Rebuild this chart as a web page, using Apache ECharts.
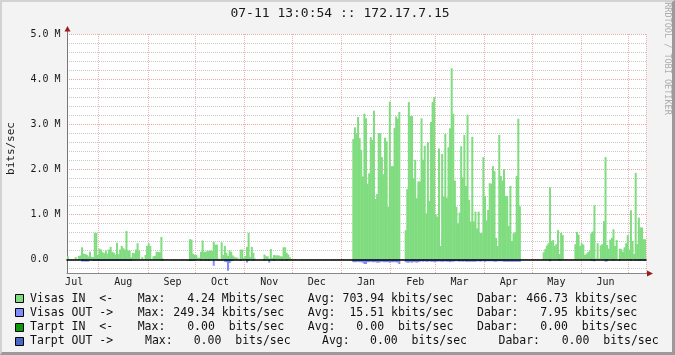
<!DOCTYPE html>
<html><head><meta charset="utf-8">
<script src="https://cdn.jsdelivr.net/npm/echarts@6/dist/echarts.min.js"></script>
<style>
html,body{margin:0;padding:0;background:#f3f3f3;}
#wrap{position:relative;width:675px;height:355px;overflow:hidden;}
#chart{position:absolute;left:0;top:0;width:675px;height:355px;}
#frame{position:absolute;left:0;top:0;width:675px;height:355px;box-sizing:border-box;border-top:2px solid #d2d2d2;border-left:2px solid #d2d2d2;border-right:3px solid #9a9a9a;border-bottom:3px solid #9a9a9a;pointer-events:none;}
</style></head><body>
<div id="wrap"><div id="chart"></div><div id="frame"></div></div>
<script>
const TITLE = '07-11 13:0:54 :: 172.17.7.15';
const Y_NAME = 'bits/sec';
const WATERMARK = 'RRDTOOL / TOBI OETIKER';
const MONTH_LABELS = ['Jan','Feb','Mar','Apr','May','Jun','Jul','Aug','Sep','Oct','Nov','Dec'];

// Visas IN, Mbit/s per day (first value = first day listed in MONTH_BLOCKS)
const IN_2008_07 = [0.07,null,null,null,null,0.05,null,0.08,0.09,0.27,0.13,0.12,0.10,0.07,0.17,0.06,0.05,0.59,0.59,0.10];
const IN_2008_08 = [0.24,0.22,0.16,0.14,0.20,0.13,0.22,0.28,0.17,0.15,0.11,0.37,0.12,0.22,0.30,0.25,0.22,0.63,0.20,0.20,0.05,0.15,0.14,0.22,0.36,0.20,null,0.05,null,0.10,0.30];
const IN_2008_09 = [0.36,0.30,null,0.07,0.08,0.17,0.17,0.16,0.50,0.02,null,null,null,null,null,null,null,null,null,null,null,null,null,null,null,null,0.45,0.44,0.13,0.10];
const IN_2008_10 = [0.10,0.04,0.04,0.17,0.42,0.17,0.17,0.19,0.19,0.20,0.19,0.39,0.33,0.33,0.02,null,0.38,0.10,0.30,0.15,0.08,0.20,0.17,0.09,0.06,0.04,0.04,null,0.22,0.22,0.04];
const IN_2008_11 = [0.08,0.28,0.59,0.06,0.28,0.15,0.02,null,null,null,null,null,0.11,0.07,0.07,0.02,0.23,0.04,0.10,0.09,0.09,0.09,0.07,0.07,0.27,0.27,0.15,0.11,0.05,null];
const IN_2008_12 = [];
const IN_2009_01 = [null,null,null,null,null,null,null,2.67,2.93,2.80,3.16,2.69,2.43,1.84,3.23,3.13,1.68,1.91,2.71,2.65,3.30,1.34,1.45,2.80,2.80,2.27,1.89,2.70,2.62,1.17,3.50];
const IN_2009_02 = [2.07,2.07,2.92,3.17,3.12,3.27,null,null,null,0.65,1.56,3.49,3.18,3.18,1.80,2.21,1.36,1.73,1.73,3.13,2.21,2.52,1.02,2.60,1.30,3.05,3.49,3.60];
const IN_2009_03 = [1.00,0.95,2.46,0.30,2.34,1.39,2.78,1.37,2.49,2.91,4.24,3.23,1.75,1.17,0.80,1.04,2.51,1.82,2.76,1.63,3.21,1.32,0.84,2.72,0.84,1.06,0.69,1.06,0.59,0.58,2.27];
const IN_2009_04 = [1.41,0.87,1.10,1.69,1.68,2.07,1.96,0.48,0.30,2.76,1.85,1.75,2.00,1.41,1.41,0.74,1.63,0.41,0.58,0.60,1.85,3.12,1.18];
const IN_2009_05 = [null,null,null,null,null,null,null,0.16,0.23,0.31,0.36,1.60,0.41,0.43,0.30,0.34,0.65,0.12,0.59,0.54,null,null,null,null,null,null,null,0.34,0.61,0.55,0.30];
const IN_2009_06 = [0.36,0.33,0.10,0.13,0.16,0.20,0.58,0.62,1.20,0.02,0.36,0.02,0.31,0.34,0.85,2.27,0.32,0.24,0.44,0.48,0.67,0.30,0.43,null,0.24,0.23,0.17,0.27,0.36,0.54];
const IN_2009_07 = [0.22,1.09,0.41,0.12,1.92,0.34,0.93,0.71,0.71,0.45,0.45];

// Visas OUT, Mbit/s per day (drawn below zero)
const OUT_2008_07 = [null,null,null,null,null,null,null,null,null,0.045,0.045,0.045,0.045,0.045,null,null,0.03,0.03,0.03,0.03];
const OUT_2008_08 = [0.03,0.03,0.03,0.03,0.03,0.03,0.03,0.03,0.03,0.03,0.03,0.03,0.03,0.03,0.03,0.03,0.03,0.03,0.03,0.03,0.03];
const OUT_2008_09 = [null,null,null,null,null,null,null,null,0.02,0.02,null,null,null,null,null,null,null,null,null,null,null,null,null,null,null,null,0.03,0.03,0.03,0.03];
const OUT_2008_10 = [null,null,null,0.03,null,null,0.03,null,0.03,null,null,0.14,null,null,0.03,null,0.03,null,0.05,0.06,0.25,0.08,0.04,0.03,null,null,null,null,0.03,null,null];
const OUT_2008_11 = [null,0.07,0.03,null,null,0.03,null,null,null,null,null,null,0.03,null,null,0.07,null,null,0.03,null,null,null,null,0.03,null,null,0.03,null,null,null];
const OUT_2008_12 = [];
const OUT_2009_01 = [null,null,null,null,null,null,null,0.06,0.06,0.06,0.05,0.06,0.06,0.07,0.10,0.10,0.06,0.06,0.05,0.06,0.06,0.06,0.07,0.07,0.06,0.05,0.06,0.06,0.06,0.06,0.07];
const OUT_2009_02 = [0.06,0.06,0.06,0.06,0.07,0.10,null,null,null,0.06,0.07,0.07,0.06,0.07,0.06,0.06,0.07,0.06,0.05,0.04,0.05,0.04,0.05,0.05,0.04,0.05,0.05,0.06];
const OUT_2009_03 = [0.05,0.05,0.04,0.05,0.05,0.05,0.04,0.05,0.05,0.06,0.05,0.05,0.04,0.04,0.04,0.05,0.04,0.05,0.04,0.05,0.05,0.05,0.05,0.05,0.05,0.05,0.04,0.04,0.05,0.04,0.04];
const OUT_2009_04 = [0.05,0.04,0.04,0.04,0.04,0.04,0.05,0.05,0.04,0.04,0.04,0.04,0.05,0.05,0.05,0.05,0.05,0.05,0.05,0.05,0.05,0.05,0.05];
const OUT_2009_05 = [null,null,null,null,null,null,null,null,null,null,null,0.04,null,null,null,null,null,0.03];
const OUT_2009_06 = [null,null,null,null,null,null,0.03,0.03,0.04,null,null,null,null,null,null,0.05,0.04,null,null,null,0.03,null,null,null,0.03,null,null,null,null,null];
const OUT_2009_07 = [null,0.03,null,null,0.03,null,0.03,0.03,null,0.03,0.03];

// [month, first day in array, IN, OUT]
const MONTH_BLOCKS = [
  ['2008-07',12,IN_2008_07,OUT_2008_07],['2008-08',1,IN_2008_08,OUT_2008_08],['2008-09',1,IN_2008_09,OUT_2008_09],
  ['2008-10',1,IN_2008_10,OUT_2008_10],['2008-11',1,IN_2008_11,OUT_2008_11],['2008-12',1,IN_2008_12,OUT_2008_12],
  ['2009-01',1,IN_2009_01,OUT_2009_01],['2009-02',1,IN_2009_02,OUT_2009_02],['2009-03',1,IN_2009_03,OUT_2009_03],
  ['2009-04',1,IN_2009_04,OUT_2009_04],['2009-05',1,IN_2009_05,OUT_2009_05],['2009-06',1,IN_2009_06,OUT_2009_06],
  ['2009-07',1,IN_2009_07,OUT_2009_07]
];

const LEGEND_NAMES = ['Visas IN  <-','Visas OUT ->','Tarpt IN  <-','Tarpt OUT ->'];
const LEGEND_COLORS = ['#7fdc7f','#7f8cff','#0c9a0c','#4a68c8'];
const STAT_LABELS = ['Max:','Avg:','Dabar:'];
const STAT_VALUES = [
  ['4.24 Mbits/sec','703.94 kbits/sec','466.73 kbits/sec'],
  ['249.34 kbits/sec','15.51 kbits/sec','7.95 kbits/sec'],
  ['0.00  bits/sec','0.00  bits/sec','0.00  bits/sec'],
  ['0.00  bits/sec','0.00  bits/sec','0.00  bits/sec']
];

// ---- layout (not data) ----
const FONT = '"DejaVu Sans Mono", monospace';
const G = {left:67, top:34, width:579, height:239};
const ROW_Y = [299.3, 313.4, 327.5, 341.5];
const LBL_X = [[137.7,307.8,477],[137.7,307.8,477],[137.7,307.8,477],[145,322,498.5]];
const VAL_R = [[284.1,453.3,637.1],[284.1,453.3,637.1],[284.1,453.3,637.1],[290.6,467,658.6]];
const C_IN = LEGEND_COLORS[0], C_OUT = LEGEND_COLORS[1];
const GRID_MINOR = '#c8c8c8', GRID_MAJOR = '#eaa6a6', VGRID = '#eeb4b4', NONE = 'rgba(0,0,0,0)';
const ARROW = '#9b1c1c';

const dates = [], inData = [], outData = [];
let t = Date.UTC(2008,6,12);
const tEnd = Date.UTC(2009,6,11);
while (t <= tEnd) {
  const iso = new Date(t).toISOString();
  const ym = iso.slice(0,7), day = +iso.slice(8,10);
  const blk = MONTH_BLOCKS.find(b => b[0] === ym);
  const off = day - blk[1];
  const vi = blk[2][off], vo = blk[3][off];
  dates.push(iso.slice(0,10));
  inData.push(vi == null ? null : vi);
  outData.push(vo == null ? null : -vo);
  t += 86400000;
}

const graphics = [];
graphics.push({type:'text', x:340, y:13.5, style:{text:TITLE, font:'13px '+FONT, fill:'#1a1a1a', align:'center', verticalAlign:'middle'}});
graphics.push({type:'text', x:11, y:148.5, rotation:Math.PI/2, style:{text:Y_NAME, font:'11px '+FONT, fill:'#1a1a1a', align:'center', verticalAlign:'middle'}});
graphics.push({type:'text', x:667, y:58.5, rotation:-Math.PI/2, style:{text:WATERMARK, font:'8.5px '+FONT, fill:'#ababab', align:'center', verticalAlign:'middle'}});
graphics.push({type:'line', shape:{x1:G.left+0.5, y1:G.top, x2:G.left+0.5, y2:G.top-3}, style:{stroke:'#777', lineWidth:1}});
graphics.push({type:'polygon', shape:{points:[[G.left-2.5,G.top-2.5],[G.left+3.5,G.top-2.5],[G.left+0.5,G.top-8]]}, style:{fill:ARROW}});
graphics.push({type:'line', shape:{x1:G.left+G.width, y1:G.top+G.height+0.5, x2:G.left+G.width+2, y2:G.top+G.height+0.5}, style:{stroke:'#888', lineWidth:1}});
graphics.push({type:'polygon', shape:{points:[[G.left+G.width+1,G.top+G.height-2.5],[G.left+G.width+1,G.top+G.height+3.5],[G.left+G.width+7,G.top+G.height+0.5]]}, style:{fill:ARROW}});
LEGEND_NAMES.forEach((name, r) => {
  const y = ROW_Y[r];
  graphics.push({type:'rect', shape:{x:15.5, y:Math.round(y-4)-0.5, width:8, height:8}, style:{fill:LEGEND_COLORS[r], stroke:'#000', lineWidth:1}});
  graphics.push({type:'text', x:30, y:y, style:{text:name, font:'11.5px '+FONT, fill:'#111', align:'left', verticalAlign:'middle'}});
  STAT_LABELS.forEach((lab, k) => {
    graphics.push({type:'text', x:LBL_X[r][k], y:y, style:{text:lab, font:'11.5px '+FONT, fill:'#111', align:'left', verticalAlign:'middle'}});
    graphics.push({type:'text', x:VAL_R[r][k], y:y, style:{text:STAT_VALUES[r][k], font:'11.5px '+FONT, fill:'#111', align:'right', verticalAlign:'middle'}});
  });
});

const chart = echarts.init(document.getElementById('chart'), null, {renderer:'canvas'});
chart.setOption({
  animation:false,
  backgroundColor:'#f3f3f3',
  textStyle:{fontFamily:FONT},
  grid:{left:G.left, top:G.top, width:G.width, height:G.height, show:true, backgroundColor:'#ffffff', borderWidth:0, containLabel:false},
  xAxis:[
    {type:'category', data:dates, boundaryGap:true, position:'bottom',
     axisLine:{onZero:false, lineStyle:{color:'#888', width:1}},
     axisTick:{show:false},
     axisLabel:{interval:(i,v)=> v.slice(8)==='16', formatter:v=>MONTH_LABELS[+v.slice(5,7)-1], color:'#1a1a1a', fontSize:10, fontFamily:FONT, margin:4},
     splitLine:{show:true, interval:(i,v)=> v.slice(8)==='01', lineStyle:{color:VGRID, width:1, type:[1,1]}}},
    {type:'category', data:dates, boundaryGap:true, position:'top', z:10,
     axisLine:{show:true, onZero:true, lineStyle:{color:'#000', width:1.5}},
     axisTick:{show:false}, axisLabel:{show:false}, splitLine:{show:false}}
  ],
  yAxis:{type:'value', min:-0.3, max:5.0, interval:0.1,
    axisLine:{show:true, lineStyle:{color:'#777', width:1}},
    axisTick:{show:false},
    axisLabel:{color:'#1a1a1a', fontSize:10, fontFamily:FONT, align:'left', margin:36.5,
      formatter:v=>{ if (Math.abs(v-Math.round(v))>1e-6) return ''; return Math.round(v)===0 ? '0.0' : v.toFixed(1)+' M'; }},
    splitLine:{show:true, lineStyle:{width:1, type:[1,1], color:[NONE,GRID_MINOR,NONE,GRID_MAJOR,NONE,GRID_MINOR,NONE,GRID_MINOR,NONE,GRID_MINOR]}}
  },
  series:[
    {name:'Visas IN', type:'bar', xAxisIndex:0, stack:'traffic', data:inData, barWidth:2, itemStyle:{color:C_IN}, silent:true},
    {name:'Visas OUT', type:'bar', xAxisIndex:0, stack:'traffic', data:outData, barWidth:2, itemStyle:{color:C_OUT}, silent:true}
  ],
  graphic:graphics
});
</script></body></html>
